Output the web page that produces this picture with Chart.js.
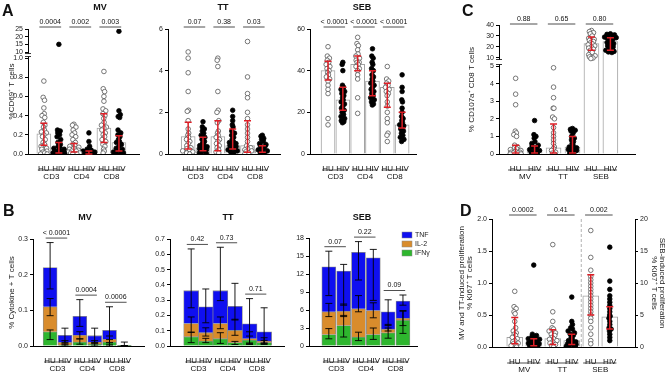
<!DOCTYPE html>
<html>
<head>
<meta charset="utf-8">
<script src="https://cdn.jsdelivr.net/npm/chart.js@4.4.1/dist/chart.umd.min.js"></script>
<style>
html, body { margin: 0; padding: 0; background: #fff; }
#fig { position: relative; width: 667px; height: 375px; overflow: hidden; font-family: "Liberation Sans", Arial, sans-serif; }
#fig canvas { position: absolute; }
.lt { position: absolute; font-weight: bold; font-size: 16px; line-height: 16px; color: #111; }
</style>
</head>
<body>
<div id="fig">
  <canvas id="aMv"></canvas><canvas id="aTt"></canvas><canvas id="aSeb"></canvas>
  <canvas id="c"></canvas>
  <canvas id="bMv"></canvas><canvas id="bTt"></canvas><canvas id="bSeb"></canvas>
  <canvas id="d"></canvas>
  <div class="lt" style="left:2px;top:3px">A</div>
  <div class="lt" style="left:3px;top:203px">B</div>
  <div class="lt" style="left:462px;top:3px">C</div>
  <div class="lt" style="left:460px;top:203px">D</div>
</div>
<script>
// ---- labels
const subjects = ["HU", "HIV"];
const cells = ["CD3", "CD4", "CD8"];
const stims = ["MV", "TT", "SEB"];
const legendLabels = ["TNF", "IL-2", "IFNγ"];

// ---- panel A : %CD69+ T cells (order HU CD3, HIV CD3, HU CD4, HIV CD4, HU CD8, HIV CD8)
const aMvPts = [
    [0.76, 0.59, 0.56, 0.48, 0.42, 0.40, 0.38, 0.33, 0.30, 0.28, 0.25, 0.23, 0.22, 0.20, 0.18, 0.15, 0.12, 0.10, 0.08, 0.06, 0.05, 0.03, 0.02, 0.01, 0.0, 0.0],
    [15, 0.25, 0.24, 0.22, 0.20, 0.18, 0.15, 0.12, 0.10, 0.08, 0.07, 0.06, 0.05, 0.04, 0.03, 0.03, 0.02, 0.02, 0.01, 0.01, 0.0, 0.0, 0.0],
    [0.31, 0.30, 0.28, 0.25, 0.22, 0.20, 0.18, 0.15, 0.12, 0.10, 0.09, 0.08, 0.07, 0.06, 0.05, 0.04, 0.03, 0.03, 0.02, 0.01, 0.01, 0.0, 0.0],
    [0.22, 0.13, 0.08, 0.05, 0.04, 0.03, 0.02, 0.02, 0.01, 0.01, 0.01, 0.0, 0.0, 0.0, 0.0, 0.0, 0.0, 0.0],
    [0.86, 0.68, 0.65, 0.60, 0.55, 0.47, 0.45, 0.42, 0.40, 0.37, 0.33, 0.30, 0.28, 0.27, 0.25, 0.22, 0.20, 0.18, 0.15, 0.13, 0.10, 0.08, 0.05, 0.03, 0.01],
    [23.5, 0.45, 0.41, 0.39, 0.38, 0.25, 0.22, 0.20, 0.18, 0.15, 0.13, 0.12, 0.10, 0.08, 0.06, 0.05, 0.04, 0.03, 0.02, 0.01, 0.0, 0.0]
];
const aMvMed = [0.21, 0.07, 0.05, 0.02, 0.27, 0.12];
const aMvIqr = [[0.09, 0.32], [0.01, 0.12], [0.02, 0.11], [0.0, 0.03], [0.12, 0.42], [0.03, 0.19]];
const aMvP = ["0.0004", "0.002", "0.003"];
const aMvTicks = [0, 0.2, 0.4, 0.6, 0.8, 1, 10, 15, 20, 25];
const aMvTickLabels = ["0.0", "0.2", "0.4", "0.6", "0.8", "1.0", "10", "15", "20", "25"];

const aTtPts = [
    [4.9, 4.6, 3.9, 3.0, 2.1, 2.05, 1.6, 1.2, 1.0, 0.9, 0.8, 0.7, 0.6, 0.5, 0.4, 0.3, 0.25, 0.2, 0.15, 0.1, 0.05, 0.0],
    [1.55, 1.3, 1.2, 1.1, 1.0, 0.9, 0.8, 0.7, 0.6, 0.5, 0.45, 0.4, 0.35, 0.3, 0.25, 0.2, 0.15, 0.1, 0.05, 0.0, 0.0],
    [4.6, 4.5, 4.2, 3.0, 2.1, 2.0, 1.6, 1.5, 1.1, 1.0, 0.9, 0.8, 0.7, 0.6, 0.5, 0.4, 0.3, 0.2, 0.1, 0.05],
    [2.1, 1.8, 1.6, 1.4, 1.3, 1.1, 1.0, 0.9, 0.8, 0.7, 0.6, 0.55, 0.5, 0.45, 0.4, 0.35, 0.3, 0.25, 0.2, 0.15, 0.1, 0.05],
    [5.4, 3.7, 2.9, 2.7, 2.0, 1.7, 1.4, 1.2, 1.0, 0.8, 0.6, 0.4, 0.3, 0.25, 0.2, 0.15, 0.1, 0.05, 0.0],
    [0.9, 0.85, 0.75, 0.7, 0.6, 0.5, 0.45, 0.4, 0.35, 0.3, 0.25, 0.2, 0.15, 0.1, 0.05, 0.0]
];
const aTtMed = [0.84, 0.3, 0.84, 0.4, 0.4, 0.2];
const aTtIqr = [[0.24, 1.53], [0.16, 0.8], [0.16, 1.6], [0.24, 1.2], [0.08, 1.6], [0.08, 0.4]];
const aTtP = ["0.07", "0.38", "0.03"];
const aTtTicks = [0, 2, 4, 6];

const aSebPts = [
    [51.5, 47, 46, 45, 44, 43, 42, 41, 40, 39, 38, 37, 36, 35, 33, 31, 29, 17, 14],
    [44, 43, 40, 33, 32, 31, 30, 29, 28, 27, 26, 25, 24, 23, 22, 21, 20, 19, 18, 17, 16, 15.5, 15],
    [56, 53, 52, 50, 48, 47, 46, 45, 44, 44, 43, 42, 41, 40, 38, 36, 27, 19.5],
    [50.5, 47, 46, 44, 43, 41, 40, 38, 37, 36, 35, 34, 33, 32, 31, 30, 29, 28, 27, 26, 25, 24, 23.5],
    [42, 36, 35, 34, 33, 32, 31, 30, 29, 28, 25, 23, 20, 17, 15, 10, 9, 6],
    [38, 32, 30, 26, 25, 22, 20, 18, 17, 16, 15, 14, 13.5, 13, 12, 11, 10, 9, 8, 7, 6]
];
const aSebMed = [40, 26, 43, 35, 32, 14];
const aSebIqr = [[35.5, 44.5], [21, 32], [40, 47], [28, 40], [22.5, 34], [12.5, 20]];
const aSebP = ["< 0.0001", "< 0.0001", "< 0.0001"];
const aSebTicks = [0, 20, 40, 60];

// ---- panel C : % CD107a+ CD8 T cells (HU/HIV for MV, TT, SEB)
const cPts = [
    [4.3, 3.4, 2.8, 1.3, 1.2, 1.1, 1.0, 0.5, 0.4, 0.35, 0.3, 0.25, 0.2, 0.15, 0.1, 0.1, 0.05, 0.05, 0, 0],
    [1.9, 1.1, 1.0, 0.9, 0.7, 0.6, 0.5, 0.45, 0.4, 0.35, 0.3, 0.25, 0.2, 0.15, 0.1, 0.05, 0],
    [4.9, 3.8, 3.2, 2.6, 2.6, 2.1, 2.0, 1.5, 1.2, 1.0, 0.8, 0.6, 0.4, 0.3, 0.2, 0.1, 0.05, 0],
    [1.45, 1.4, 1.35, 1.3, 1.2, 1.0, 0.9, 0.8, 0.7, 0.6, 0.5, 0.4, 0.35, 0.3, 0.25, 0.2, 0.15, 0.1, 0.05],
    [35, 34, 33, 32, 30, 28, 27, 26, 25, 24, 23, 22, 21, 20, 19, 18, 17, 15, 13, 12, 11, 10, 9.5],
    [32, 31.5, 31, 30.5, 30, 29, 28.5, 28, 27, 26, 25, 24, 23, 22, 21, 20, 19, 18, 17, 16, 15.5, 15]
];
const cMed = [0.15, 0.2, 0.35, 0.4, 23, 25];
const cIqr = [[0.05, 0.5], [0.05, 0.45], [0.05, 1.7], [0.05, 1.0], [17, 29], [17, 28.5]];
const cP = ["0.88", "0.65", "0.80"];
const cTicks = [0, 1, 2, 3, 4, 5, 10, 20, 30, 40];

// ---- panel D : % Ki67+ T cells (SEB on right axis)
const dPts = [
    [0.87, 0.63, 0.6, 0.55, 0.52, 0.4, 0.3, 0.25, 0.22, 0.2, 0.18, 0.15, 0.13, 0.1, 0.08, 0.06, 0.05, 0.03, 0.02, 0],
    [1.28, 0.2, 0.18, 0.16, 0.15, 0.13, 0.12, 0.1, 0.09, 0.08, 0.07, 0.06, 0.05, 0.04, 0.03, 0.02, 0.01, 0],
    [1.6, 0.55, 0.4, 0.3, 0.28, 0.25, 0.22, 0.2, 0.18, 0.15, 0.13, 0.12, 0.1, 0.08, 0.06, 0.04, 0.02, 0],
    [0.78, 0.4, 0.35, 0.3, 0.28, 0.25, 0.22, 0.2, 0.18, 0.15, 0.12, 0.1, 0.08, 0.06, 0.05, 0.04, 0.03, 0.02, 0.01, 0],
    [18.2, 14, 12, 11, 10.5, 10, 9.5, 9, 8.5, 8, 7.5, 7, 6.5, 6, 5.5, 5, 4.5, 4, 3, 2, 1, 0.5],
    [15.6, 10.3, 9, 8, 7.5, 7, 6.5, 6, 5.5, 5, 4.8, 4.5, 4, 3.5, 3, 2.8, 2.5, 2, 1.5, 1]
];
const dMed = [0.15, 0.08, 0.13, 0.1, 8, 4.7];
const dIqr = [[0.05, 0.46], [0.02, 0.13], [0.04, 0.27], [0.04, 0.2], [5, 11.3], [2.8, 6.3]];
const dP = ["0.0002", "0.41", "0.002"];
const dTicks = [0, 0.5, 1, 1.5, 2];
const dTicks2 = [0, 5, 10, 15, 20];

// ---- panel B : % cytokine+ T cells, stacked IFNγ / IL-2 / TNF, error bars [low, high]
const bMvIfn = [0.04, 0.003, 0.011, 0.005, 0.011, 0.0003];
const bMvIl2 = [0.07, 0.007, 0.019, 0.006, 0.008, 0.0003];
const bMvTnf = [0.11, 0.02, 0.053, 0.018, 0.025, 0.0004];
const bMvErrIfn = [[0.018, 0.045], [0, 0.006], [0.005, 0.02], [0, 0.008], [0.005, 0.018], [0, 0.001]];
const bMvErrIl2 = [[0.085, 0.133], [0.005, 0.015], [0.02, 0.04], [0.006, 0.015], [0.01, 0.028], [0, 0.001]];
const bMvErrTnf = [[0.16, 0.29], [0.01, 0.05], [0.055, 0.13], [0.01, 0.05], [0, 0.11], [0, 0.011]];
const bMvP = ["< 0.0001", "0.0004", "0.0006"];
const bMvTicks = [0, 0.1, 0.2, 0.3];

const bTtIfn = [0.061, 0.033, 0.048, 0.022, 0.039, 0.022];
const bTtIl2 = [0.086, 0.054, 0.099, 0.08, 0.009, 0.011];
const bTtTnf = [0.215, 0.169, 0.215, 0.158, 0.097, 0.06];
const bTtErrIfn = [[0.022, 0.09], [0.022, 0.05], [0.017, 0.087], [0.01, 0.03], [0.015, 0.065], [0.01, 0.037]];
const bTtErrIl2 = [[0.09, 0.19], [0.065, 0.119], [0.113, 0.19], [0.07, 0.175], [0.01, 0.093], [0.02, 0.054]];
const bTtErrTnf = [[0.25, 0.635], [0.152, 0.373], [0.297, 0.646], [0.17, 0.41], [0.02, 0.31], [0.017, 0.25]];
const bTtP = ["0.42", "0.73", "0.71"];
const bTtTicks = [0, 0.1, 0.2, 0.3, 0.4, 0.5, 0.6, 0.7];

const bSebIfn = [1.9, 3.4, 1.5, 1.9, 2.2, 4.3];
const bSebIl2 = [3.8, 2.4, 4.7, 4.0, 0.6, 0.3];
const bSebTnf = [7.5, 6.7, 9.4, 8.8, 2.9, 2.9];
const bSebErrIfn = [[1.2, 2.9], [1.5, 5.1], [0.9, 2.3], [1.1, 3.0], [1.3, 3.0], [2.1, 5.8]];
const bSebErrIl2 = [[4.9, 7.1], [4.9, 7.0], [5.7, 8.4], [4.7, 7.2], [2.5, 3.6], [3.4, 5.9]];
const bSebErrTnf = [[8.4, 15.8], [6.8, 13.6], [11, 17.4], [7.6, 16.1], [3.4, 7.7], [6.8, 8.5]];
const bSebP = ["0.07", "0.22", "0.09"];
const bSebTicks = [0, 3, 6, 9, 12, 15, 18];

// ---- look
const FONT = '"Liberation Sans", Arial, sans-serif';
const RED = "#dc1f26", BLUE = "#0f0ff0", ORANGE = "#d98c2c", GREEN = "#2eb62e";
Chart.defaults.font.family = FONT;
Chart.defaults.color = "#222";

// broken axes: values above the break are squeezed into a short top segment
const tfA = v => v <= 1 ? v : 1.0625 + (v - 10) * 0.016;
const tfC = v => v <= 5 ? v : 5.455 + (v - 10) * 0.0625;

// canvas boxes and plot areas, page pixels
const L = {
    aMv:  { box: { x: 0, y: 0, w: 150, h: 185 },   area: { l: 28, t: 29, r: 139, b: 154 },  xr: [-0.44, 5.72] },
    aTt:  { box: { x: 150, y: 0, w: 140, h: 185 }, area: { l: 168, t: 29, r: 280, b: 154 }, xr: [-0.73, 5.56] },
    aSeb: { box: { x: 290, y: 0, w: 140, h: 185 }, area: { l: 310, t: 29, r: 416, b: 154 }, xr: [-0.62, 5.34] },
    c:    { box: { x: 460, y: 0, w: 207, h: 185 }, area: { l: 499, t: 25, r: 635, b: 154 }, xr: [-0.28, 5.7] },
    bMv:  { box: { x: 0, y: 185, w: 150, h: 190 },   area: { l: 33, t: 239, r: 144, b: 346 },  xr: [-0.53, 5.7] },
    bTt:  { box: { x: 150, y: 185, w: 140, h: 190 }, area: { l: 170, t: 239, r: 284, b: 346 }, xr: [-0.8, 5.71] },
    bSeb: { box: { x: 290, y: 185, w: 170, h: 190 }, area: { l: 309, t: 238, r: 417, b: 346 }, xr: [-0.73, 5.34] },
    d:    { box: { x: 452, y: 185, w: 215, h: 190 }, area: { l: 492, t: 219, r: 635, b: 347 }, xr: [-0.57, 5.7] }
};
const cfg = {};

function place(id, box) {
    const c = document.getElementById(id);
    c.width = box.w;
    c.height = box.h;
    Object.assign(c.style, { left: box.x + "px", top: box.y + "px", width: box.w + "px", height: box.h + "px" });
    return c;
}

function line(ctx, x1, y1, x2, y2) {
    ctx.beginPath();
    ctx.moveTo(x1, y1);
    ctx.lineTo(x2, y2);
    ctx.stroke();
}

function whisker(ctx, x, y1, y2, w) {
    ctx.beginPath();
    ctx.moveTo(x, y1); ctx.lineTo(x, y2);
    ctx.moveTo(x - w, y1); ctx.lineTo(x + w, y1);
    ctx.moveTo(x - w, y2); ctx.lineTo(x + w, y2);
    ctx.stroke();
}

// spread crowded points sideways, isolated ones stay central
function jitter(ys, rng, maxS, k) {
    const seq = [0, -0.75, 0.75, -0.4, 0.4, -1, 1, -0.55, 0.55, -0.2, 0.2, -0.9, 0.9];
    return ys.map((v, j) => {
        const near = ys.filter(u => Math.abs(u - v) < rng).length - 1;
        return Math.min(maxS, k * near) * seq[j % seq.length];
    });
}

function xAxis(xr, h) {
    return {
        type: "linear", min: xr[0], max: xr[1], stacked: true,
        border: { display: true, color: "#000", width: 1 },
        grid: { display: false },
        ticks: { font: { size: 8 }, color: "#111", padding: 2, autoSkip: false, maxRotation: 0,
            callback: v => subjects[v % 2] },
        afterBuildTicks: s => { s.ticks = [0, 1, 2, 3, 4, 5].map(v => ({ value: v })); },
        afterFit: s => { s.height = h; }
    };
}

function yAxis(o, width, pos) {
    const tf = o.tf || (v => v);
    const labels = o.labels || o.ticks.map(String);
    return {
        type: "linear", position: pos, min: 0, max: o.max,
        border: { display: true, color: "#000", width: 1 },
        grid: { display: true, drawOnChartArea: false, drawTicks: true, tickLength: 3, color: "#000" },
        ticks: { font: { size: 7 }, color: "#222", padding: 2, autoSkip: false, callback: (v, i) => labels[i] },
        afterBuildTicks: s => { s.ticks = o.ticks.map(v => ({ value: tf(v) })); },
        afterFit: s => { s.width = width; },
        title: o.title
            ? { display: true, text: o.title, color: "#222", font: { size: 8, lineHeight: 1 }, padding: { top: o.titlePad, bottom: 0 } }
            : { display: false }
    };
}

function options(lay, scales, hasRight) {
    const { box, area } = lay;
    return {
        responsive: false, animation: false, events: [], devicePixelRatio: 1,
        layout: { padding: { left: 0, bottom: 0, top: area.t - box.y, right: hasRight ? 0 : box.x + box.w - area.r } },
        scales,
        plugins: { legend: { display: false }, tooltip: { enabled: false } }
    };
}

function dotChart(id, o) {
    const lay = L[id], box = lay.box, area = lay.area;
    const cv = place(id, box);
    const step = (area.r - area.l) / (lay.xr[1] - lay.xr[0]);
    const axisOf = i => (o.y2 && i >= 4) ? "y2" : "y";
    const fOf = i => axisOf(i) === "y2" ? (v => v) : (o.y.tf || (v => v));
    const maxOf = i => axisOf(i) === "y2" ? o.y2.max : o.y.max;
    const ds = [];
    ["y", "y2"].forEach(ax => {
        const idx = [0, 1, 2, 3, 4, 5].filter(i => axisOf(i) === ax);
        if (!idx.length) return;
        ds.push({
            type: "bar", yAxisID: ax, order: 2, grouped: false, barThickness: o.barW,
            data: idx.map(i => ({ x: i, y: fOf(i)(o.med[i]) })),
            backgroundColor: "#fff", borderColor: "#a3a3a3", borderWidth: 1
        });
    });
    o.pts.forEach((vals, i) => {
        const ys = vals.map(fOf(i));
        const off = jitter(ys, 0.025 * maxOf(i), 7 / step, 1.1 / step);
        ds.push({
            type: "scatter", yAxisID: axisOf(i), order: 1,
            data: ys.map((y, j) => ({ x: i + off[j], y })),
            pointRadius: 2.3, pointBorderWidth: 0.8,
            pointBackgroundColor: i % 2 ? "#000" : "#fff",
            pointBorderColor: i % 2 ? "#000" : "#555"
        });
    });
    const scales = { x: xAxis(lay.xr, box.y + box.h - area.b), y: yAxis(o.y, area.l - box.x, "left") };
    if (o.y2) scales.y2 = yAxis(o.y2, box.x + box.w - area.r, "right");
    cfg[id] = Object.assign({ kind: "dot", axisOf, fOf }, o, lay);
    new Chart(cv, { type: "bar", data: { datasets: ds }, options: options(lay, scales, !!o.y2) });
}

function stackChart(id, o) {
    const lay = L[id], box = lay.box, area = lay.area;
    const cv = place(id, box);
    const mk = (vals, color, label) => ({
        type: "bar", label, data: vals.map((v, i) => ({ x: i, y: v })),
        backgroundColor: color, borderColor: "#8c8c8c", borderWidth: 0.8, barThickness: o.barW
    });
    const ds = [mk(o.ifn, GREEN, "IFNγ"), mk(o.il2, ORANGE, "IL-2"), mk(o.tnf, BLUE, "TNF")];
    const y = Object.assign(yAxis(o.y, area.l - box.x, "left"), { stacked: true });
    const scales = { x: xAxis(lay.xr, box.y + box.h - area.b), y };
    cfg[id] = Object.assign({ kind: "stack" }, o, lay);
    new Chart(cv, { type: "bar", data: { datasets: ds }, options: options(lay, scales, false) });
}

Chart.register({
    id: "extras",
    beforeDatasetsDraw(chart) {
        const c = cfg[chart.canvas.id];
        if (!c || c.sep == null) return;
        const ctx = chart.ctx, a = chart.chartArea, x = chart.scales.x.getPixelForValue(c.sep);
        ctx.save();
        ctx.strokeStyle = "#a0a0a0"; ctx.lineWidth = 0.8; ctx.setLineDash([3, 2]);
        line(ctx, x, a.bottom, x, a.top - 2);
        ctx.restore();
    },
    afterDatasetsDraw(chart) {
        const c = cfg[chart.canvas.id];
        if (!c) return;
        const ctx = chart.ctx, xs = chart.scales.x;
        ctx.save();
        if (c.kind === "dot") {
            ctx.strokeStyle = RED; ctx.lineWidth = 1.5;
            c.iqr.forEach(([lo, hi], i) => {
                const ys = chart.scales[c.axisOf(i)], f = c.fOf(i);
                whisker(ctx, xs.getPixelForValue(i), ys.getPixelForValue(f(lo)), ys.getPixelForValue(f(hi)), 3.5);
            });
        } else {
            ctx.strokeStyle = "#000"; ctx.lineWidth = 0.9;
            const ys = chart.scales.y;
            for (let i = 0; i < 6; i++) {
                const x = xs.getPixelForValue(i);
                [c.errIfn[i], c.errIl2[i], c.errTnf[i]].forEach(([lo, hi]) =>
                    whisker(ctx, x, ys.getPixelForValue(lo), ys.getPixelForValue(hi), 3.5));
            }
        }
        ctx.restore();
    },
    afterDraw(chart) {
        const c = cfg[chart.canvas.id];
        if (!c) return;
        const ctx = chart.ctx, a = chart.chartArea, xs = chart.scales.x, bx = c.box;
        ctx.save();
        ctx.fillStyle = "#111"; ctx.strokeStyle = "#222"; ctx.lineWidth = 0.8;
        ctx.textAlign = "center"; ctx.textBaseline = "middle";

        ctx.font = "bold 9px " + FONT;
        ctx.fillText(c.title, c.titleX - bx.x, c.titleY - bx.y);

        ctx.font = "7px " + FONT;
        c.pvals.forEach((p, k) => {
            const i = 2 * k;
            const y = c.kind === "stack"
                ? chart.scales.y.getPixelForValue(Math.max(c.errTnf[i][1], c.errTnf[i + 1][1])) - 4.5
                : a.top - c.brY;
            const x1 = xs.getPixelForValue(i - 0.3), x2 = xs.getPixelForValue(i + 1.15);
            line(ctx, x1, y, x2, y);
            ctx.fillText(p, (x1 + x2) / 2, y - 5);
        });

        ctx.font = "8px " + FONT;
        c.groups.forEach((g, k) => {
            const i = 2 * k, y = a.bottom + 16;
            line(ctx, xs.getPixelForValue(i - 0.4), y, xs.getPixelForValue(i + 1.35), y);
            ctx.fillText(g, xs.getPixelForValue(i + 0.5), y + 7);
        });

        if (c.brk) {
            const ys = chart.scales.y, f = c.y.tf;
            const yLo = ys.getPixelForValue(f(c.brk[0])), yHi = ys.getPixelForValue(f(c.brk[1]));
            ctx.fillStyle = "#fff";
            ctx.fillRect(a.left - 2, yHi + 1.5, 4, yLo - yHi - 3);
            ctx.strokeStyle = "#000";
            line(ctx, a.left - 3, yHi + 1.5, a.left + 3, yHi + 1.5);
            line(ctx, a.left - 3, yLo - 1.5, a.left + 3, yLo - 1.5);
        }

        if (c.legend) {
            const cols = [BLUE, ORANGE, GREEN];
            ctx.textAlign = "left"; ctx.font = "7px " + FONT;
            legendLabels.forEach((t, k) => {
                const y = 50 + 9 * k;
                ctx.fillStyle = cols[k];
                ctx.fillRect(112, y - 3, 10, 6);
                ctx.strokeStyle = "#888"; ctx.lineWidth = 0.5;
                ctx.strokeRect(112, y - 3, 10, 6);
                ctx.fillStyle = "#222";
                ctx.fillText(t, 125, y);
            });
        }
        ctx.restore();
    }
});

// ---- panel A
dotChart("aMv", {
    pts: aMvPts, med: aMvMed, iqr: aMvIqr, pvals: aMvP, groups: cells, barW: 14,
    title: "MV", titleX: 100, titleY: 8, brY: 2, brk: [1, 10],
    y: { max: tfA(25), ticks: aMvTicks, labels: aMvTickLabels, tf: tfA, title: "%CD69⁺ T cells", titlePad: 8 }
});
dotChart("aTt", {
    pts: aTtPts, med: aTtMed, iqr: aTtIqr, pvals: aTtP, groups: cells, barW: 14,
    title: "TT", titleX: 223, titleY: 8, brY: 2,
    y: { max: 6, ticks: aTtTicks }
});
dotChart("aSeb", {
    pts: aSebPts, med: aSebMed, iqr: aSebIqr, pvals: aSebP, groups: cells, barW: 14,
    title: "SEB", titleX: 362, titleY: 8, brY: 2,
    y: { max: 60, ticks: aSebTicks }
});

// ---- panel C
dotChart("c", {
    pts: cPts, med: cMed, iqr: cIqr, pvals: cP, groups: stims, barW: 15,
    title: "", titleX: 0, titleY: 0, brY: 1, brk: [5, 10],
    y: { max: tfC(40), ticks: cTicks, tf: tfC, title: "% CD107a⁺ CD8 T cells", titlePad: 8 }
});

// ---- panel D
dotChart("d", {
    pts: dPts, med: dMed, iqr: dIqr, pvals: dP, groups: stims, barW: 16,
    title: "", titleX: 0, titleY: 0, brY: 4, sep: 3.5,
    y: { max: 2, ticks: dTicks, labels: ["0.0", "0.5", "1.0", "1.5", "2.0"],
        title: ["MV and TT-induced proliferation", "% Ki67⁺ T cells"], titlePad: 6 },
    y2: { max: 20, ticks: dTicks2, title: ["SEB-induced proliferation", "% Ki67⁺ T cells"], titlePad: 1 }
});

// ---- panel B
stackChart("bMv", {
    ifn: bMvIfn, il2: bMvIl2, tnf: bMvTnf, errIfn: bMvErrIfn, errIl2: bMvErrIl2, errTnf: bMvErrTnf,
    pvals: bMvP, groups: cells, barW: 14, title: "MV", titleX: 85, titleY: 218,
    y: { max: 0.3, ticks: bMvTicks, labels: bMvTicks.map(v => v.toFixed(1)), title: "% Cytokine + T cells", titlePad: 8 }
});
stackChart("bTt", {
    ifn: bTtIfn, il2: bTtIl2, tnf: bTtTnf, errIfn: bTtErrIfn, errIl2: bTtErrIl2, errTnf: bTtErrTnf,
    pvals: bTtP, groups: cells, barW: 15, title: "TT", titleX: 228, titleY: 218,
    y: { max: 0.7, ticks: bTtTicks, labels: bTtTicks.map(v => v.toFixed(1)) }
});
stackChart("bSeb", {
    ifn: bSebIfn, il2: bSebIl2, tnf: bSebTnf, errIfn: bSebErrIfn, errIl2: bSebErrIl2, errTnf: bSebErrTnf,
    pvals: bSebP, groups: cells, barW: 14, title: "SEB", titleX: 362, titleY: 218, legend: true,
    y: { max: 18, ticks: bSebTicks }
});
</script>
</body>
</html>
